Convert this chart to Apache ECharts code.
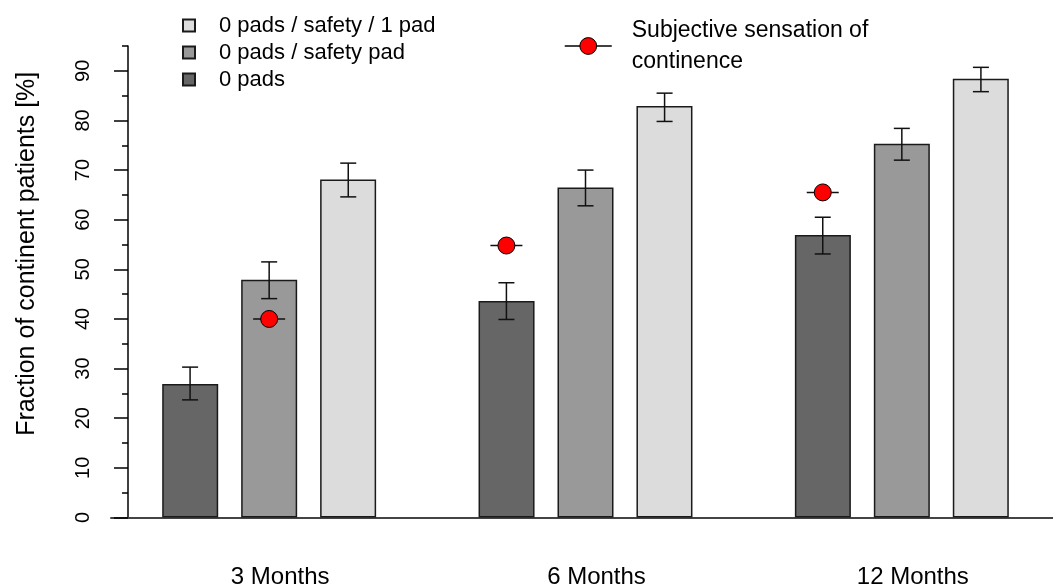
<!DOCTYPE html>
<html><head><meta charset="utf-8">
<script src="https://cdn.jsdelivr.net/npm/echarts@6/dist/echarts.min.js"></script>
<style>html,body{margin:0;padding:0;background:#fff}#c{width:1053px;height:586px}</style>
</head><body><div id="c"></div>
<script>
const categories = ['3 Months', '6 Months', '12 Months'];
const nameDark = '0 pads';
const nameMid = '0 pads / safety pad';
const nameLight = '0 pads / safety / 1 pad';
const nameSubj = 'Subjective sensation of\ncontinence';
const pads0 = [26.9, 43.6, 56.9];
const pads0Low = [23.7, 39.9, 53.1];
const pads0High = [30.3, 47.3, 60.5];
const safetyPad = [47.9, 66.5, 75.3];
const safetyPadLow = [44.1, 62.8, 72.0];
const safetyPadHigh = [51.5, 70.0, 78.4];
const safety1Pad = [68.1, 82.9, 88.4];
const safety1PadLow = [64.6, 79.8, 85.8];
const safety1PadHigh = [71.4, 85.5, 90.7];
const subjective = [40.0, 54.8, 65.5];
const subjectiveBar = [1, 0, 0];
const yMajorTicks = [0, 10, 20, 30, 40, 50, 60, 70, 80, 90];
const yMinorTicks = [5, 15, 25, 35, 45, 55, 65, 75, 85, 95];

const BAR_STEP = 0.25; // bar spacing within a group, in category units
const FONT = '"Liberation Sans", Arial, Helvetica, sans-serif';

const lows = [pads0Low, safetyPadLow, safety1PadLow];
const highs = [pads0High, safetyPadHigh, safety1PadHigh];
const errData = [];
for (let k = 0; k < 3; k++) {
  for (let i = 0; i < categories.length; i++) {
    errData.push([i + (k - 1) * BAR_STEP, lows[k][i], highs[k][i]]);
  }
}
const subjData = subjective.map((v, i) => [i + (subjectiveBar[i] - 1) * BAR_STEP, v]);

const chart = echarts.init(document.getElementById('c'), null, {renderer: 'canvas'});
const barStyle = c => ({color: c, borderColor: '#1a1a1a', borderWidth: 1.5});

chart.setOption({
  animation: false,
  backgroundColor: '#fff',
  textStyle: {fontFamily: FONT, color: '#000'},
  grid: {left: 111, top: 46, width: 949, height: 471.5, outerBoundsMode: 'none'},
  legend: [{
    data: [{name: nameLight}, {name: nameMid}, {name: nameDark}],
    orient: 'vertical', left: 182, top: 12, padding: 0, itemWidth: 12, itemHeight: 12, itemGap: 0,
    icon: 'rect', selectedMode: false,
    textStyle: {fontFamily: FONT, fontSize: 22, lineHeight: 27, color: '#000', padding: [0, 0, 0, 19]}
  }, {
    data: [{name: nameSubj, itemStyle: {color: '#ff0000', borderColor: '#000', borderWidth: 1},
            lineStyle: {color: '#000', width: 1.5, opacity: 1}}],
    left: 564, top: 15, padding: 0, itemWidth: 47, itemHeight: 21, selectedMode: false,
    textStyle: {fontFamily: FONT, fontSize: 23, lineHeight: 31, color: '#000', padding: [0, 0, 0, 15]}
  }],
  xAxis: [{
    type: 'category', data: categories,
    axisLine: {onZero: false, lineStyle: {color: '#444', width: 2}},
    axisTick: {show: false},
    axisLabel: {fontSize: 24, margin: 48, color: '#000', fontFamily: FONT, padding: [0, 0, 0, 22]}
  }, {
    type: 'value', min: -0.5, max: 2.5, show: false
  }],
  yAxis: [{
    type: 'value', min: 0, max: 95, interval: 5, position: 'left', offset: -17,
    axisLine: {show: true, onZero: false, lineStyle: {color: '#000', width: 1.5}},
    axisTick: {show: true, customValues: yMajorTicks, length: 14, lineStyle: {color: '#000', width: 1.5}},
    axisLabel: {customValues: yMajorTicks, rotate: 90, fontSize: 20, margin: 35, color: '#000', fontFamily: FONT},
    splitLine: {show: false},
    name: 'Fraction of continent patients [%]', nameLocation: 'middle', nameRotate: 90, nameGap: 88,
    nameTextStyle: {fontSize: 25, color: '#000', fontFamily: FONT, padding: [0, 0, 0, 56]}
  }, {
    type: 'value', min: 0, max: 95, interval: 5, position: 'left', offset: -17,
    axisLine: {show: false, onZero: false},
    axisTick: {show: true, customValues: yMinorTicks, length: 6, lineStyle: {color: '#000', width: 1.5}},
    axisLabel: {show: false},
    splitLine: {show: false}
  }],
  series: [
    {name: nameDark, type: 'bar', data: pads0, barWidth: 56, barGap: '41%', itemStyle: barStyle('#666666'), z: 2},
    {name: nameMid, type: 'bar', data: safetyPad, barWidth: 56, barGap: '41%', itemStyle: barStyle('#999999'), z: 2},
    {name: nameLight, type: 'bar', data: safety1Pad, barWidth: 56, barGap: '41%', itemStyle: barStyle('#dcdcdc'), z: 2},
    {
      type: 'custom', xAxisIndex: 1, yAxisIndex: 0, data: errData, z: 3, silent: true,
      renderItem: function (params, api) {
        const x = api.value(0);
        const p1 = api.coord([x, api.value(2)]);
        const p2 = api.coord([x, api.value(1)]);
        const hw = 8;
        const style = {stroke: '#111', lineWidth: 1.5};
        return {type: 'group', children: [
          {type: 'line', shape: {x1: p1[0], y1: p1[1], x2: p2[0], y2: p2[1]}, style: style},
          {type: 'line', shape: {x1: p1[0] - hw, y1: p1[1], x2: p1[0] + hw, y2: p1[1]}, style: style},
          {type: 'line', shape: {x1: p2[0] - hw, y1: p2[1], x2: p2[0] + hw, y2: p2[1]}, style: style}
        ]};
      }
    },
    {
      type: 'custom', xAxisIndex: 1, yAxisIndex: 0, data: subjData, z: 4, silent: true,
      renderItem: function (params, api) {
        const p = api.coord([api.value(0), api.value(1)]);
        return {type: 'line', shape: {x1: p[0] - 16, y1: p[1], x2: p[0] + 16, y2: p[1]},
                style: {stroke: '#111', lineWidth: 1.5}};
      }
    },
    {
      name: nameSubj, type: 'line', xAxisIndex: 1, yAxisIndex: 0, data: subjData, z: 5,
      symbol: 'circle', symbolSize: 17, showSymbol: true,
      lineStyle: {opacity: 0},
      itemStyle: {color: '#ff0000', borderColor: '#000', borderWidth: 1}
    }
  ]
});
</script>
</body></html>
